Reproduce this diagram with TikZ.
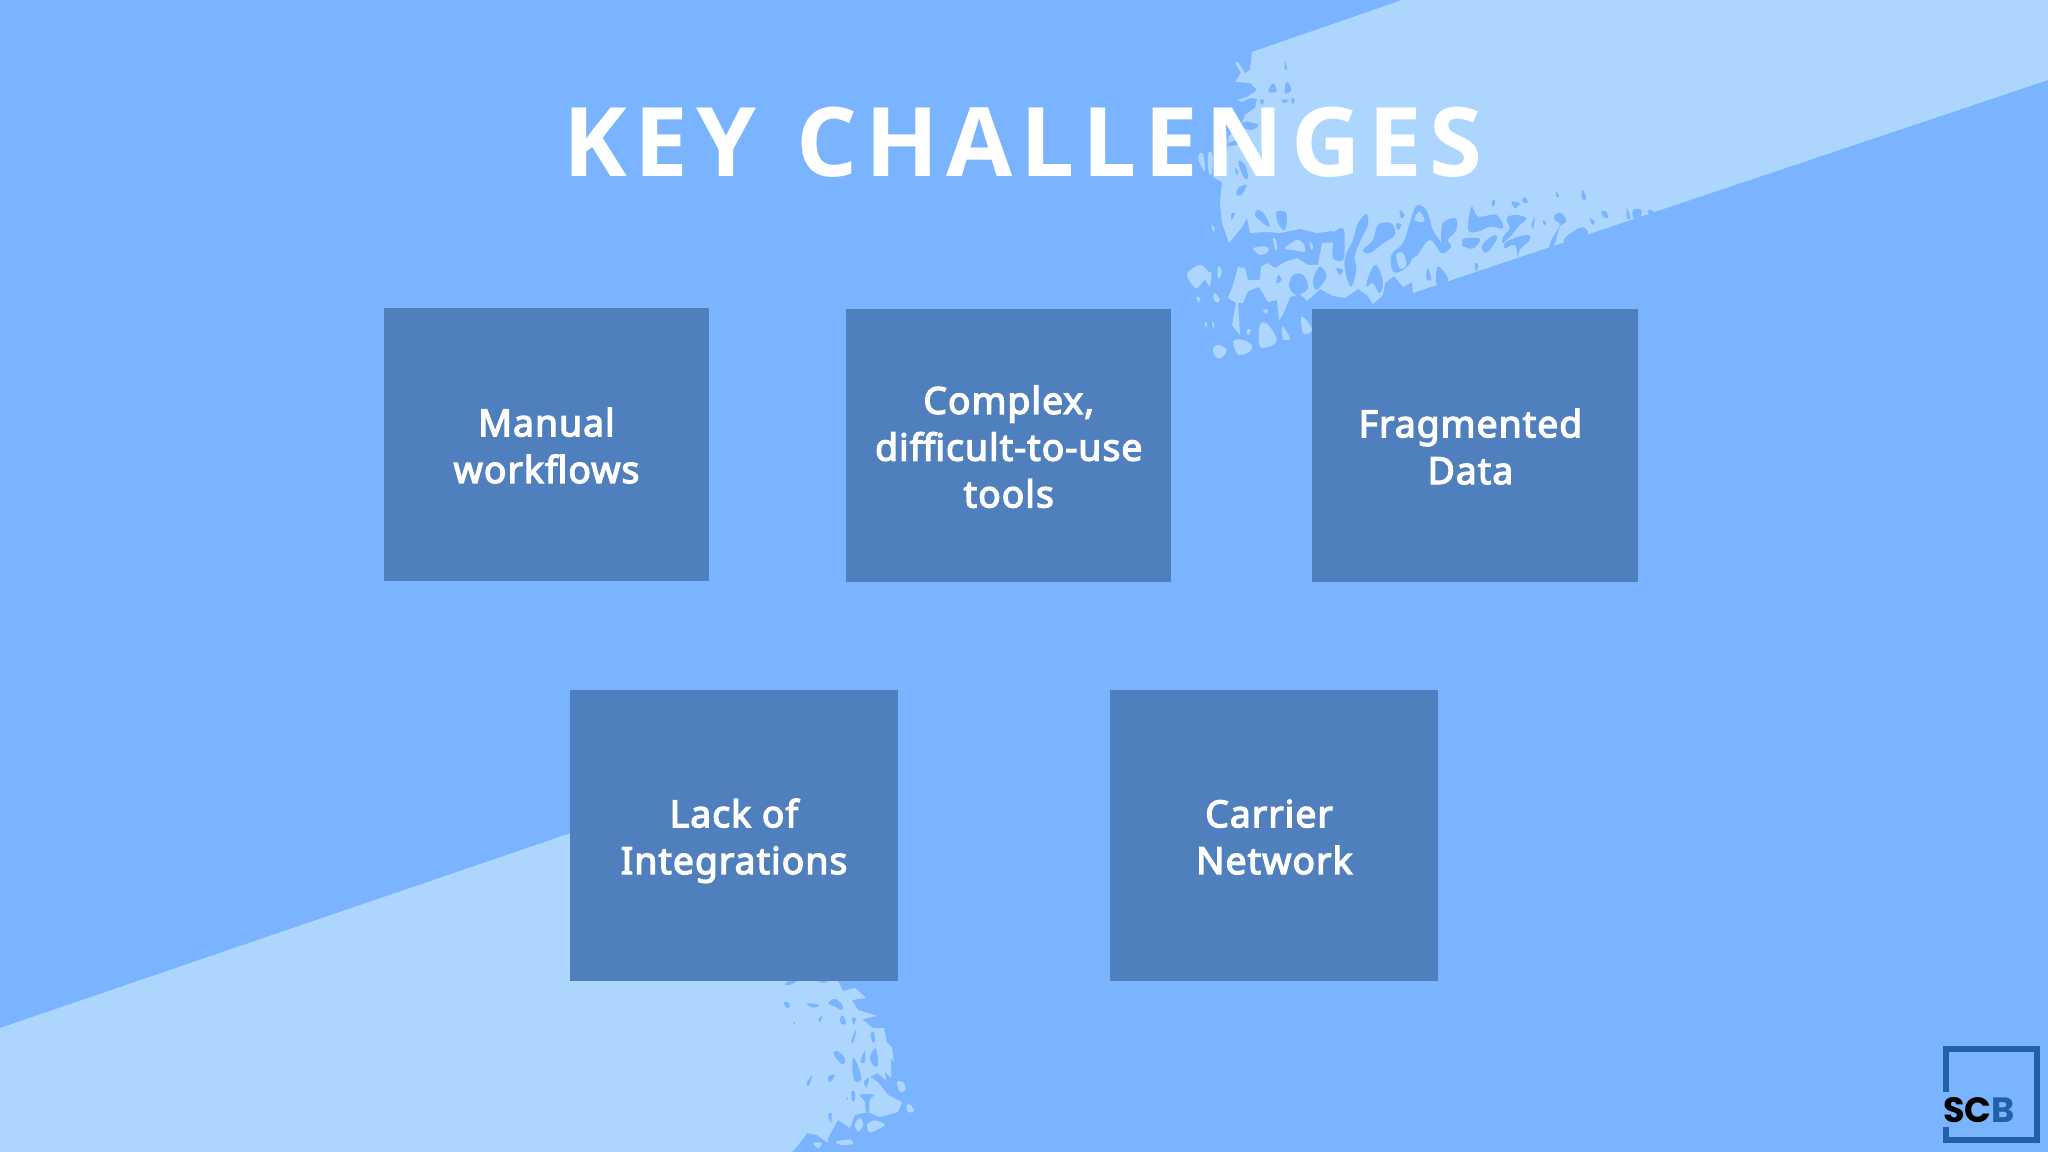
\documentclass[tikz,border=0pt]{standalone}
\usepackage{fontspec}
\usepackage{tikz}
\usetikzlibrary{positioning}
\newfontfamily\titlefont[LetterSpace=8]{Open Sans}
\newfontfamily\tilefont[FakeBold=3.5,LetterSpace=2.8]{Noto Sans}
\newfontfamily\logofont{Poppins}
\definecolor{sky}{RGB}{122,180,255}
\definecolor{pale}{RGB}{173,214,255}
\definecolor{slate}{RGB}{79,127,188}
\definecolor{logoblue}{RGB}{32,96,168}
\newcommand{\hole}[1]{\fill[sky] plot[smooth cycle,tension=.6] coordinates {#1};}
\newcommand{\fleck}[1]{\fill[pale] plot[smooth cycle,tension=.6] coordinates {#1};}
\newcommand{\tl}{\rule{0pt}{12.2pt}}
\newcommand{\bl}{\rule[-3.6pt]{0pt}{3.6pt}}
\tikzset{
  tile/.style={fill=slate,text=white,align=center,inner sep=0pt,outer sep=0pt,minimum width=3.25cm,minimum height=2.73cm,
    font=\tilefont\fontsize{10.6}{13.3}\selectfont},
  bigtile/.style={tile,minimum width=3.28cm,minimum height=2.91cm},
  logoline/.style={draw=logoblue,line width=1.7pt},
}
\begin{document}
\begin{tikzpicture}[x=0.01cm,y=-0.01cm]
  \useasboundingbox (0,0) rectangle (2048,1152);
  \fill[sky] (0,0) rectangle (2048,1152);
  % upper right band
  \fill[pale] (1402,0) -- (2048,0) -- (2048,80) -- (1413,293) -- (1412,282) -- (1403,287) -- (1394,276)
    -- (1385,283) -- (1383,295) -- (1373,304) -- (1367,295) -- (1358,289) -- (1345,298) -- (1333,296)
    -- (1320,289) -- (1307,301) -- (1300,294) -- (1290,297) -- (1285,310) -- (1279,321) -- (1277,300)
    -- (1268,302) -- (1259,287) -- (1248,291) -- (1243,303) -- (1238,303) -- (1240,335) -- (1232,325)
    -- (1236,303) -- (1228,298) -- (1233,285) -- (1238,267) -- (1245,268) -- (1248,280) -- (1260,280)
    -- (1261,267) -- (1267,263) -- (1275,268) -- (1285,262) -- (1297,258) -- (1308,265) -- (1318,265)
    -- (1322,243) -- (1340,242) -- (1333,231) -- (1317,233) -- (1300,229) -- (1280,233) -- (1267,232)
    -- (1250,233) -- (1247,218) -- (1242,227) -- (1229,243) -- (1222,223) -- (1220,203) -- (1222,182)
    -- (1213,177) -- (1220,163) -- (1227,150) -- (1228,137) -- (1242,123) -- (1245,115) -- (1255,108)
    -- (1257,99) -- (1250,98) -- (1242,102) -- (1237,100) -- (1247,97) -- (1257,90) -- (1250,83)
    -- (1235,82) -- (1241,73) -- (1235,63) -- (1238,62) -- (1245,73) -- (1250,70) -- (1252,52) -- cycle;
  % lower left band
  \fill[pale] (0,1028) -- (700,789) -- (838,900) -- (838,981) -- (843,991) -- (855,988) -- (866,998)
    -- (852,1000) -- (858,1010) -- (877,1016) -- (862,1019) -- (873,1028) -- (884,1028) -- (887,1043)
    -- (892,1047) -- (894,1062) -- (891,1058) -- (891,1078) -- (885,1072) -- (886,1080) -- (877,1073)
    -- (870,1077) -- (878,1082) -- (888,1095) -- (902,1102) -- (898,1112) -- (880,1117) -- (868,1112)
    -- (855,1115) -- (850,1128) -- (838,1120) -- (828,1138) -- (828,1143) -- (817,1135) -- (807,1133)
    -- (800,1143) -- (792,1152) -- (0,1152) -- cycle;
  % left edge of the upper band
  \begin{scope}[shift={(1170,40)},x=0.00333cm,y=-0.00333cm]
    \hole{(310,130) (320,155) (295,155)}
    \hole{(350,125) (365,150) (345,160)}
    \hole{(345,65) (352,85) (345,90)}
    \hole{(335,180) (355,180) (345,190)}
    \hole{(365,175) (375,180) (368,192)}
    \hole{(270,180) (282,180) (277,195)}
    \hole{(225,245) (265,255) (245,270) (215,260)}
    \hole{(175,310) (205,300) (215,310) (175,320)}
    \hole{(205,365) (225,375) (235,415) (220,410)}
    \hole{(195,385) (205,395) (200,405)}
    \hole{(205,445) (230,435) (215,465) (200,465)}
    \fleck{(90,340) (100,345) (105,395) (85,360)}
    \fleck{(115,340) (128,345) (125,405) (115,390)}
  \end{scope}
  % worn part of the upper band
  \begin{scope}[shift={(1170,200)},x=0.00333cm,y=-0.00333cm]
    \hole{(590,42) (595,75) (575,115) (555,170) (560,210) (545,260) (530,230) (525,175) (550,120) (565,70)}
    \hole{(580,150) (610,120) (625,75) (665,70) (675,105) (640,130) (600,160)}
    \hole{(740,18) (770,30) (790,90) (815,130) (815,160) (780,120) (740,170) (700,210) (670,215) (665,165) (700,130) (720,70)}
    \fleck{(735,60) (750,35) (765,65)}
    \fleck{(680,165) (700,160) (710,195) (690,205)}
    \fleck{(725,180) (750,165) (752,185) (730,192)}
    \hole{(820,70) (858,55) (860,90) (835,120) (845,140) (820,160) (815,130)}
    \hole{(490,100) (520,85) (525,130) (520,180) (490,175) (490,130)}
    \hole{(600,220) (620,195) (640,245) (630,280) (610,250) (590,260)}
    \hole{(775,205) (785,240) (770,235)}
    \hole{(805,200) (835,235) (820,255) (800,250)}
    \hole{(880,120) (900,115) (900,135) (880,140)}
    \hole{(265,30) (285,45) (300,80) (280,70) (255,45)}
    \hole{(320,35) (350,40) (345,90) (325,70)}
    \hole{(690,30) (705,45) (695,55)}
    \hole{(680,70) (695,75) (685,90)}
    \hole{(185,40) (195,40) (185,60)}
    \hole{(370,225) (400,225) (415,265) (380,285) (358,260)}
    \hole{(450,200) (470,230) (440,270) (430,240)}
    \hole{(500,205) (520,210) (510,225)}
    \hole{(325,225) (335,240) (320,250)}
    \fleck{(250,145) (290,140) (295,155) (270,165)}
    \fleck{(345,145) (380,120) (400,130) (405,155) (370,150)}
    \fleck{(310,115) (318,120) (322,150) (315,145)}
    \fleck{(420,125) (430,140) (425,150)}
    \fleck{(125,75) (135,85) (130,95)}
    \fleck{(52,220) (90,195) (115,215) (125,220) (118,260) (105,240) (80,265) (60,245)}
    \fleck{(145,200) (155,210) (150,235) (143,230)}
    \fleck{(135,280) (150,300) (140,308) (130,295)}
    \fleck{(80,290) (90,295) (85,310)}
    \fleck{(270,375) (295,375) (320,425) (272,442)}
    \fleck{(190,425) (215,420) (245,435) (240,455) (205,465)}
    \fleck{(130,445) (145,435) (170,450) (155,475) (135,470)}
    \fleck{(338,380) (360,415) (340,418)}
    \fleck{(395,350) (420,375) (425,395) (400,400)}
    \fleck{(230,390) (243,390) (235,405)}
    \fleck{(105,365) (112,375) (108,382)}
    \fleck{(128,362) (134,380) (128,382)}
    \fleck{(280,330) (295,330) (288,342)}
  \end{scope}
  \begin{scope}[shift={(1400,170)},x=0.00333cm,y=-0.00333cm]
    \hole{(275,95) (285,90) (285,105) (277,110)}
    \hole{(335,95) (360,100) (345,115)}
    \hole{(375,82) (385,95) (375,100) (367,90)}
    \hole{(470,65) (478,80) (470,80)}
    \hole{(550,60) (560,85) (550,90) (545,75)}
    \hole{(215,110) (235,140) (290,135) (310,175) (270,170) (235,185) (205,180)}
    \hole{(320,145) (345,135) (380,145) (355,170) (340,190) (310,220) (310,200) (330,175)}
    \hole{(320,215) (380,195) (390,210) (360,240) (355,265) (345,225) (315,235)}
    \hole{(190,207) (240,207) (222,235) (195,230)}
    \hole{(250,220) (285,195) (290,210) (265,245) (250,245)}
    \hole{(465,135) (485,130) (500,155) (480,170) (465,220) (450,235) (455,210) (480,165) (465,150)}
    \hole{(495,205) (520,185) (550,172) (565,190) (540,205) (495,225)}
    \hole{(395,165) (405,140) (400,175)}
    \hole{(430,150) (440,160) (432,165)}
    \hole{(570,145) (585,155) (578,165)}
    \hole{(605,125) (620,125) (625,145) (610,140)}
    \hole{(682,115) (692,145) (682,145)}
    \hole{(700,120) (725,120) (720,145) (702,145)}
    \hole{(745,120) (762,125) (750,135)}
    \hole{(225,280) (235,285) (228,305)}
  \end{scope}
  % worn part of the lower band
  \begin{scope}[shift={(760,975)},x=0.00333cm,y=-0.00333cm]
    \hole{(75,30) (85,18) (110,18) (95,28)}
    \hole{(175,18) (205,18) (190,24)}
    \hole{(72,85) (82,80) (90,95) (80,98)}
    \hole{(140,85) (178,90) (160,98)}
    \hole{(205,85) (225,72) (248,90) (245,105) (225,95)}
    \hole{(175,135) (187,122) (182,140)}
    \hole{(240,130) (250,122) (258,145) (245,148)}
    \hole{(275,130) (288,130) (282,148)}
    \hole{(100,140) (106,145) (103,150)}
    \hole{(275,195) (288,165) (285,190) (277,205)}
    \hole{(332,175) (343,172) (345,200) (337,200)}
    \hole{(222,235) (232,228) (255,250) (250,268) (232,255)}
    \hole{(302,260) (315,228) (315,262)}
    \hole{(330,250) (347,220) (355,265) (345,275)}
    \hole{(278,250) (290,262) (305,310) (290,322) (280,305)}
    \hole{(312,320) (327,310) (320,338)}
    \hole{(140,325) (157,300) (147,332)}
    \hole{(205,305) (225,300) (215,318) (207,320)}
    \hole{(275,350) (285,352) (285,375) (277,378)}
    \hole{(260,367) (265,370) (262,375)}
    \hole{(300,360) (343,360) (330,375) (328,410) (318,410) (315,380)}
    \hole{(205,420) (215,415) (213,445)}
    \fleck{(412,322) (430,322) (437,345) (420,350)}
    \fleck{(440,395) (450,388) (463,408) (445,412)}
    \fleck{(285,450) (300,430) (310,450) (295,470)}
    \fleck{(322,450) (345,437) (375,450) (345,468) (328,472)}
    \fleck{(230,500) (272,495) (278,508) (240,510)}
    \fleck{(112,485) (120,480) (118,495)}
    \fleck{(160,505) (185,505) (175,520)}
  \end{scope}
  \node (title) at (1023,142) [text=white,inner sep=0pt,font=\titlefont\bfseries\fontsize{27.3}{33}\selectfont] {KEY\hspace{2.2pt} CHALLENGES};
  \node[tile] (manual) at (546.5,444.5) {\tl Manual\\workflows\bl};
  \node[tile,right=1.37cm of manual,yshift=-0.01cm] (complex) {\tl Complex,\\difficult-to-use\\tools\bl};
  \node[tile,right=1.41cm of complex] (fragmented) {\tl Fragmented\kern2.6pt\\Data\kern2.6pt\bl};
  \node[bigtile] (integrations) at (734,835.5) {\tl Lack of\\Integrations\bl};
  \node[bigtile,right=2.12cm of integrations] (carrier) {\tl Carrier\kern3pt\\Network\bl};
  % logo
  \draw[logoline] (1946,1092) -- (1946,1049) -- (2037,1049) -- (2037,1140) -- (1946,1140) -- (1946,1127);
  \node (scb) at (1979,1110) [inner sep=0pt,font=\logofont\bfseries\fontsize{10}{10}\selectfont] {SC\textcolor{logoblue}{B}};
\end{tikzpicture}
\end{document}
